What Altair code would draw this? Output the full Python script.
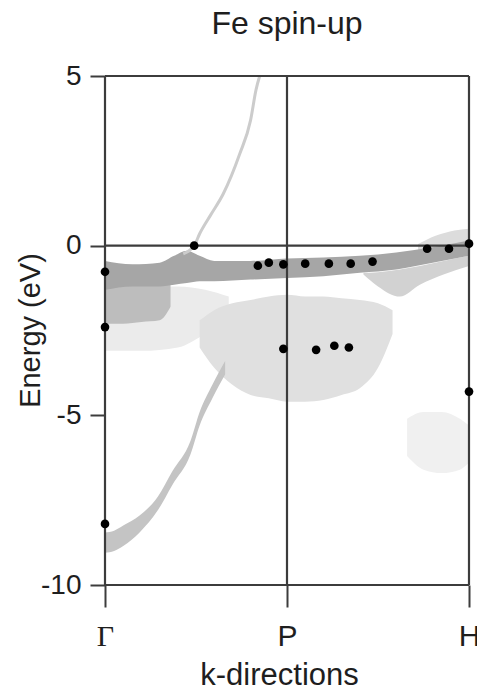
import altair as alt
import pandas as pd

# ---- data ----
# measured points (black dots)
dot_k = [0.0, 0.0, 0.0, 0.49, 0.84, 0.90, 0.98, 1.10, 1.23, 1.35, 1.47,
         0.98, 1.16, 1.26, 1.34, 1.77, 1.89, 2.0, 2.0]
dot_E = [-0.77, -2.4, -8.2, 0.0, -0.59, -0.5, -0.55, -0.53, -0.53, -0.53, -0.47,
         -3.04, -3.07, -2.95, -3.0, -0.09, -0.09, 0.06, -4.3]

# grey intensity regions (k, upper edge, lower edge)
cloudG_k = [1.66, 1.75, 1.85, 1.95, 2.0]
cloudG_hi = [-5.1, -4.9, -4.9, -5.1, -5.3]
cloudG_lo = [-6.2, -6.6, -6.7, -6.6, -6.4]

speck_k = [0.0, 0.2, 0.4, 0.55, 0.68]
speck_hi = [-1.2, -1.2, -1.2, -1.3, -1.5]
speck_lo = [-3.1, -3.1, -3.0, -2.6, -2.2]

cloudE_k = [0.52, 0.6, 0.7, 0.8, 0.9, 1.0, 1.1, 1.2, 1.3, 1.4, 1.5, 1.58]
cloudE_hi = [-2.2, -1.9, -1.7, -1.6, -1.5, -1.45, -1.5, -1.5, -1.55, -1.6, -1.7, -1.9]
cloudE_lo = [-3.0, -3.6, -4.1, -4.4, -4.5, -4.6, -4.6, -4.55, -4.4, -4.2, -3.6, -2.6]

wedge_k = [1.42, 1.5, 1.62, 1.73, 1.86, 2.0]
wedge_hi = [-0.8, -0.78, -0.7, -0.6, -0.45, -0.3]
wedge_lo = [-0.85, -1.2, -1.5, -1.15, -0.85, -0.6]

htop_k = [1.72, 1.82, 1.92, 2.0]
htop_hi = [0.05, 0.3, 0.45, 0.5]
htop_lo = [-0.15, -0.1, 0.0, 0.0]

blockD_k = [0.0, 0.1, 0.2, 0.3, 0.36]
blockD_hi = [-1.1, -1.1, -1.1, -1.1, -1.1]
blockD_lo = [-2.3, -2.3, -2.25, -2.2, -1.8]

bandC_k = [0.0, 0.15, 0.3, 0.38, 0.45, 0.52, 0.6, 0.8, 1.0, 1.2, 1.4, 1.6, 1.8, 2.0]
bandC_hi = [-0.45, -0.55, -0.5, -0.3, -0.15, -0.3, -0.45, -0.45, -0.38, -0.35, -0.3, -0.2, -0.05, 0.15]
bandC_lo = [-1.3, -1.2, -1.2, -1.15, -1.1, -1.05, -1.05, -1.0, -0.95, -0.9, -0.8, -0.7, -0.5, -0.3]

paraB_k = [0.0, 0.05, 0.1, 0.19, 0.29, 0.37, 0.47, 0.52, 0.59, 0.66]
paraB_hi = [-8.45, -8.4, -8.25, -7.95, -7.4, -6.65, -5.75, -4.9, -4.1, -3.4]
paraB_lo = [-9.05, -9.0, -8.85, -8.45, -7.8, -7.05, -6.15, -5.3, -4.5, -3.8]

paraA_k = [0.43, 0.49, 0.52, 0.58, 0.65, 0.74, 0.80, 0.83, 0.85]
paraA_E = [-0.24, 0.0, 0.35, 0.9, 1.53, 2.7, 3.7, 4.6, 5.0]

k_ticks = [0, 1, 2]
k_names = ["Γ", "P", "H"]
E_ticks = [5, 0, -5, -10]
h_lines = [5, 0, -10]
v_lines = [0, 1, 2]

LINE = "#3c3c3c"
TXT = "#1e1e1e"
FONT = "Liberation Sans"

label_expr = " : ".join(
    [f"datum.value == {v} ? '{n}'" for v, n in zip(k_ticks[:-1], k_names[:-1])]
) + f" : '{k_names[-1]}'"

xscale = alt.Scale(domain=[0, 2], nice=False, zero=False)
yscale = alt.Scale(domain=[-10, 5], nice=False, zero=False)

xaxis = alt.Axis(
    values=k_ticks, labelExpr=label_expr, grid=False, domain=False,
    tickSize=22, tickWidth=2, tickColor=LINE,
    labelFontSize=30, labelPadding=14, labelColor=TXT,
    labelFont={"condition": {"test": "datum.value == 0", "value": "Liberation Serif"},
               "value": FONT},
    labelFlush=False, labelOverlap=False, labelBound=False,
    title="k-directions", titleFont=FONT, titleFontSize=31, titleFontWeight="normal",
    titleColor=TXT, titleX=174, titleY=99, titleAlign="center",
    titleBaseline="alphabetic",
)
yaxis = alt.Axis(
    values=E_ticks, labelExpr="'' + datum.value", grid=False, domain=False,
    tickSize=15, tickWidth=2, tickColor=LINE,
    labelFontSize=28, labelPadding=9, labelColor=TXT, labelFont=FONT,
    labelFlush=False, labelOverlap=False, labelBound=False,
    title="Energy (eV)", titleFont=FONT, titleFontSize=29, titleFontWeight="normal",
    titleColor=TXT, titleX=-75, titleY=254, titleAngle=-90, titleAlign="center",
    titleBaseline="middle",
)


def X(f):
    return alt.X(f"{f}:Q", scale=xscale, axis=xaxis)


def Y(f):
    return alt.Y(f"{f}:Q", scale=yscale, axis=yaxis)


def band(ks, hi, lo, color):
    df = pd.DataFrame({"k": ks, "hi": hi, "lo": lo})
    return alt.Chart(df).mark_area(color=color, interpolate="monotone", opacity=1).encode(
        x=X("k"), y=Y("hi"), y2="lo"
    )


layers = [
    band(cloudG_k, cloudG_hi, cloudG_lo, "#f0f0f0"),
    band(speck_k, speck_hi, speck_lo, "#ebebeb"),
    band(cloudE_k, cloudE_hi, cloudE_lo, "#e0e0e0"),
    band(wedge_k, wedge_hi, wedge_lo, "#d2d2d2"),
    band(htop_k, htop_hi, htop_lo, "#dcdcdc"),
    band(blockD_k, blockD_hi, blockD_lo, "#bdbdbd"),
    band(bandC_k, bandC_hi, bandC_lo, "#a6a6a6"),
    band(paraB_k, paraB_hi, paraB_lo, "#c4c4c4"),
]

paraA = alt.Chart(pd.DataFrame({"k": paraA_k, "E": paraA_E})).mark_line(
    color="#cccccc", strokeWidth=3, interpolate="monotone"
).encode(x=X("k"), y=Y("E"))
layers.append(paraA)

vrules = alt.Chart(pd.DataFrame({"k": v_lines, "lo": [-10] * 3, "hi": [5] * 3})).mark_rule(
    color=LINE, strokeWidth=2.2
).encode(x=X("k"), y=Y("lo"), y2="hi")
hrules = alt.Chart(pd.DataFrame({"E": h_lines, "a": [0] * 3, "b": [2] * 3})).mark_rule(
    color=LINE, strokeWidth=2.2
).encode(y=Y("E"), x=X("a"), x2="b")
layers += [vrules, hrules]

dots = alt.Chart(pd.DataFrame({"k": dot_k, "E": dot_E})).mark_circle(
    color="#000000", size=75, opacity=1
).encode(x=X("k"), y=Y("E"))
layers.append(dots)

chart = alt.layer(*layers).properties(
    width=364,
    height=509,
    autosize=alt.AutoSizeParams(type="none"),
    padding={"left": 105, "top": 76, "right": 8, "bottom": 104},
    title=alt.TitleParams(
        "Fe spin-up", fontSize=32, fontWeight="normal", font=FONT, color=TXT,
        anchor="middle", frame="group", offset=36, dy=40, baseline="alphabetic",
    ),
).configure_view(stroke=None).configure(background="white")

chart.save("out.html", embed_options={"renderer": "svg", "actions": False})
